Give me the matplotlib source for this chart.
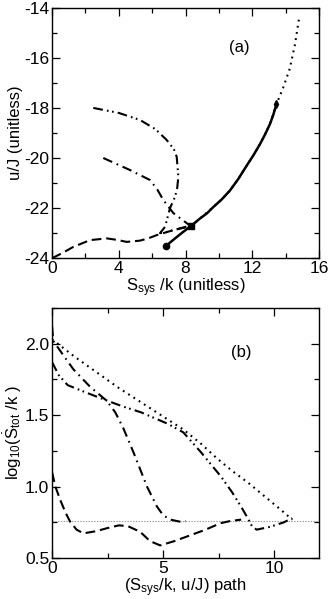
"""
Entropy path plot: (a) trajectories in (S_sys/k, u/J), (b) log10 entropy production along path
"""
import numpy as np
import matplotlib.pyplot as plt
from matplotlib.ticker import MultipleLocator

plt.rcParams['font.family'] = ['Liberation Sans', 'DejaVu Sans']
plt.rcParams['axes.unicode_minus'] = False
plt.rcParams['lines.scale_dashes'] = False
plt.rcParams['mathtext.fontset'] = 'custom'
plt.rcParams['mathtext.rm'] = 'Liberation Sans'
plt.rcParams['mathtext.it'] = 'Liberation Sans'

# ---- panel (a) data ----
solid_x = [6.83, 7.3, 7.8, 8.32, 8.86, 9.3, 9.66, 10.16, 10.66, 11.16, 11.66, 12.06, 12.46, 12.76, 13.05, 13.25, 13.45]
solid_y = [-23.51, -23.25, -22.98, -22.72, -22.42, -22.2, -21.96, -21.66, -21.3, -20.84, -20.31, -19.9, -19.45, -19.07, -18.66, -18.3, -17.85]

dot_x = [8.32, 8.86, 9.66, 10.16, 10.66, 11.16, 11.66, 12.06, 12.46, 13.05, 13.45, 13.85, 14.25, 14.55, 14.8]
dot_y = [-22.72, -22.42, -21.96, -21.66, -21.3, -20.84, -20.31, -19.9, -19.45, -18.66, -17.85, -17.2, -16.43, -15.5, -14.45]

dd_x = [2.47, 4.0, 5.27, 6.2, 6.87, 7.3, 7.47, 7.57, 7.5, 7.37, 7.07, 6.77, 6.47, 6.9, 7.27, 7.8, 8.32]
dd_y = [-18.0, -18.2, -18.48, -18.85, -19.28, -19.65, -19.95, -20.75, -21.2, -21.55, -22.0, -22.75, -23.0, -22.95, -22.88, -22.8, -22.72]

da_x = [3.07, 4.67, 5.87, 6.3, 6.67, 7.27, 8.07, 8.32]
da_y = [-20.0, -20.48, -20.88, -21.25, -21.68, -22.2, -22.6, -22.72]

dash_x = [0.0, 0.6, 1.27, 2.27, 3.27, 3.9, 4.47, 5.27, 5.8, 6.27, 7.27, 8.17, 8.32]
dash_y = [-24.0, -23.8, -23.55, -23.28, -23.21, -23.27, -23.35, -23.3, -23.2, -23.08, -22.88, -22.72, -22.72]

# ---- panel (b) data ----
b_dot_x = [0.0, 1.0, 2.0, 3.0, 4.0, 5.0, 5.9, 6.7, 7.4, 8.1, 8.8, 9.5, 10.2, 10.8]
b_dot_y = [2.03, 1.91, 1.80, 1.69, 1.59, 1.49, 1.40, 1.30, 1.20, 1.11, 1.03, 0.94, 0.85, 0.77]

b_dd_x = [0.0, 0.3, 0.7, 1.5, 2.5, 3.2, 4.0, 5.2, 5.9, 6.7, 7.6, 8.1, 8.5, 8.8, 9.0, 9.2, 9.8, 10.4, 10.8]
b_dd_y = [1.87, 1.78, 1.71, 1.66, 1.60, 1.56, 1.52, 1.44, 1.38, 1.24, 1.07, 0.96, 0.86, 0.78, 0.72, 0.70, 0.72, 0.75, 0.78]

b_da_x = [0.0, 0.05, 0.5, 0.96, 1.7, 2.46, 2.84, 3.2, 3.66, 4.27, 4.72, 5.0, 5.32, 5.77, 6.0]
b_da_y = [2.12, 2.02, 1.92, 1.82, 1.70, 1.60, 1.52, 1.41, 1.24, 1.00, 0.86, 0.80, 0.77, 0.755, 0.76]

b_dash_x = [0.0, 0.15, 0.36, 0.6, 0.81, 1.1, 1.41, 2.0, 2.46, 3.0, 3.4, 3.96, 4.4, 4.86, 5.5, 6.2, 6.9, 7.57, 8.0, 8.5]
b_dash_y = [1.1, 1.0, 0.91, 0.82, 0.756, 0.70, 0.674, 0.69, 0.71, 0.73, 0.725, 0.685, 0.62, 0.59, 0.62, 0.66, 0.70, 0.745, 0.76, 0.77]

b_level = 0.76

DASH = (0, (7, 3.5))
DASHDOT = (0, (7, 3.5, 1.2, 3.5))
DASHDOTDOT = (0, (7, 3, 1.2, 2.5, 1.2, 3))
DOT = (0, (1.3, 3.2))

fig = plt.figure(figsize=(3.34, 5.99), dpi=100)
ax1 = fig.add_axes([0.156, 0.569, 0.799, 0.418])
ax2 = fig.add_axes([0.156, 0.068, 0.799, 0.418])

ax1.plot(dot_x, dot_y, color='k', lw=1.5, linestyle=DOT)
ax1.plot(solid_x, solid_y, color='k', lw=1.8, solid_joinstyle='round')
ax1.plot(dd_x, dd_y, color='k', lw=1.5, linestyle=DASHDOTDOT)
ax1.plot(da_x, da_y, color='k', lw=1.5, linestyle=DASHDOT)
ax1.plot(dash_x, dash_y, color='k', lw=1.5, linestyle=DASH)
ax1.plot([solid_x[0]], [solid_y[0]], 'ko', ms=4.5)
ax1.plot([8.32], [-22.72], 'ks', ms=4.5)
ax1.plot([13.45], [-17.85], 'kd', ms=4)

ax1.set_xlim(0, 16)
ax1.set_ylim(-24, -14)
ax1.xaxis.set_major_locator(MultipleLocator(4))
ax1.xaxis.set_minor_locator(MultipleLocator(2))
ax1.yaxis.set_major_locator(MultipleLocator(2))
ax1.yaxis.set_minor_locator(MultipleLocator(1))
ax1.set_xlabel(r'S$_{\rm sys}$ /k (unitless)', fontsize=12, labelpad=0)
ax1.set_ylabel('u/J (unitless)', fontsize=12, labelpad=1)
ax1.text(11.2, -15.6, '(a)', fontsize=12, ha='center', va='center')

ax2.axhline(b_level, color='#999999', lw=0.8, linestyle=(0, (1, 1)))
ax2.plot(b_dot_x, b_dot_y, color='k', lw=1.5, linestyle=DOT)
ax2.plot(b_dd_x, b_dd_y, color='k', lw=1.5, linestyle=DASHDOTDOT)
ax2.plot(b_da_x, b_da_y, color='k', lw=1.5, linestyle=DASHDOT)
ax2.plot(b_dash_x, b_dash_y, color='k', lw=1.5, linestyle=DASH)

ax2.set_xlim(0, 12)
ax2.set_ylim(0.5, 2.25)
ax2.xaxis.set_major_locator(MultipleLocator(5))
ax2.xaxis.set_minor_locator(MultipleLocator(2.5))
ax2.yaxis.set_major_locator(MultipleLocator(0.5))
ax2.yaxis.set_minor_locator(MultipleLocator(0.25))
ax2.set_xlabel(r'(S$_{\rm sys}$/k, u/J) path', fontsize=12, labelpad=0)
ax2.set_ylabel(r'log$_{10}$($\dot{\rm S}_{\rm tot}$ /k )', fontsize=12, labelpad=1)
ax2.text(8.5, 1.94, '(b)', fontsize=12, ha='center', va='center')

for ax in (ax1, ax2):
    ax.tick_params(which='both', direction='in', top=True, right=True, labelsize=12.5, pad=2)
    ax.tick_params(which='major', length=6, width=0.9)
    ax.tick_params(which='minor', length=3.5, width=0.9)
    for s in ax.spines.values():
        s.set_linewidth(1.0)

fig.savefig('out.png', dpi=100)
